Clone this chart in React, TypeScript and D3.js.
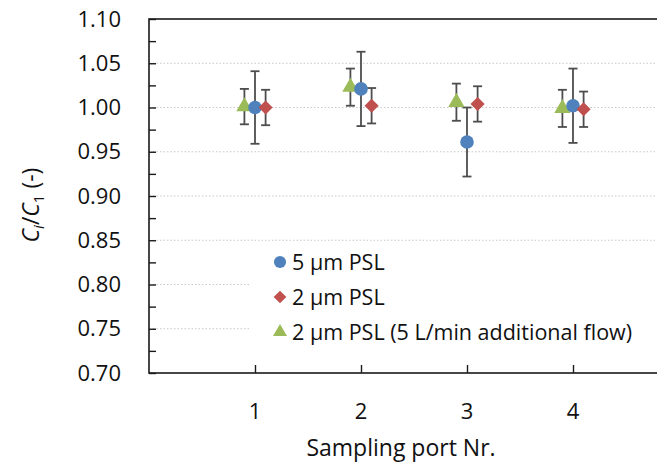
import React, { useEffect, useRef } from 'react';
import * as d3 from 'd3';

const ports = [1, 2, 3, 4];

// mean values and error (±) per port
const psl5 = [1.0, 1.021, 0.961, 1.002];
const psl5Err = [0.041, 0.042, 0.039, 0.042];
const psl2 = [1.0, 1.002, 1.004, 0.998];
const psl2Err = [0.02, 0.02, 0.02, 0.02];
const psl2Flow = [1.001, 1.023, 1.006, 0.999];
const psl2FlowErr = [0.02, 0.021, 0.021, 0.021];

const yTicks = [0.7, 0.75, 0.8, 0.85, 0.9, 0.95, 1.0, 1.05, 1.1];

const App = () => {
  const svgRef = useRef(null);

  useEffect(() => {
    const svg = d3.select(svgRef.current);
    svg.selectAll('*').remove();

    const font = "'Open Sans', sans-serif";
    const left = 149, top = 19, bottom = 373;
    const x = d3.scaleLinear().domain([0, 5]).range([left, left + 530]);
    const y = d3.scaleLinear().domain([0.7, 1.1]).range([bottom, top]);

    // grid (dotted)
    svg.append('g')
      .selectAll('line')
      .data(yTicks.filter(d => d > 0.71 && d < 1.09))
      .enter()
      .append('line')
      .attr('x1', left + 4)
      .attr('x2', 657)
      .attr('y1', d => y(d))
      .attr('y2', d => y(d))
      .attr('stroke', '#c8c8c8')
      .attr('stroke-width', 1.2)
      .attr('stroke-dasharray', '1.5,2');

    // frame
    svg.append('rect')
      .attr('x', left)
      .attr('y', top)
      .attr('width', 600)
      .attr('height', bottom - top)
      .attr('fill', 'none')
      .attr('stroke', '#1a1a1a')
      .attr('stroke-width', 1.6);

    // y axis, ticks inward every 0.025
    const yAxis = svg.append('g')
      .attr('transform', `translate(${left},0)`)
      .call(d3.axisRight(y).tickValues(d3.range(0.7, 1.1001, 0.025)).tickSize(7).tickFormat(() => ''));
    yAxis.select('.domain').remove();
    yAxis.selectAll('line').attr('stroke', '#1a1a1a').attr('stroke-width', 1.4);

    svg.append('g')
      .selectAll('text')
      .data(yTicks)
      .enter()
      .append('text')
      .attr('x', 121)
      .attr('y', d => y(d))
      .attr('dy', '0.35em')
      .attr('text-anchor', 'end')
      .style('font-family', font)
      .style('font-size', '22px')
      .attr('fill', '#111')
      .text(d => d3.format('.2f')(d));

    // x axis ticks inward
    const xAxis = svg.append('g')
      .attr('transform', `translate(0,${bottom})`)
      .call(d3.axisTop(x).tickValues(ports).tickSize(8).tickFormat(() => ''));
    xAxis.select('.domain').remove();
    xAxis.selectAll('line').attr('stroke', '#1a1a1a').attr('stroke-width', 1.4);

    svg.append('g')
      .selectAll('text')
      .data(ports)
      .enter()
      .append('text')
      .attr('x', d => x(d))
      .attr('y', 411)
      .attr('dy', '0.35em')
      .attr('text-anchor', 'middle')
      .style('font-family', font)
      .style('font-size', '22px')
      .attr('fill', '#111')
      .text(d => d);

    // axis titles
    svg.append('text')
      .attr('x', 401)
      .attr('y', 456)
      .attr('text-anchor', 'middle')
      .style('font-family', font)
      .style('font-size', '23px')
      .attr('fill', '#111')
      .text('Sampling port Nr.');

    const yt = svg.append('text')
      .attr('transform', 'translate(39,205) rotate(-90)')
      .attr('text-anchor', 'middle')
      .style('font-family', font)
      .style('font-size', '23px')
      .attr('fill', '#111');
    yt.append('tspan').style('font-style', 'italic').text('C');
    yt.append('tspan').attr('dy', 5).style('font-size', '15px').style('font-style', 'italic').text('i');
    yt.append('tspan').attr('dy', -5).text('/');
    yt.append('tspan').style('font-style', 'italic').text('C');
    yt.append('tspan').attr('dy', 5).style('font-size', '15px').text('1');
    yt.append('tspan').attr('dy', -5).text(' (-)');

    const series = [
      { vals: psl2Flow, err: psl2FlowErr, off: -0.1, color: '#9BBB59', shape: d3.symbolTriangle, size: 115, rot: 0 },
      { vals: psl5, err: psl5Err, off: 0, color: '#4F81BD', shape: d3.symbolCircle, size: 145, rot: 0 },
      { vals: psl2, err: psl2Err, off: 0.1, color: '#C0504D', shape: d3.symbolSquare, size: 100, rot: 45 },
    ];

    series.forEach(s => {
      const g = svg.append('g');
      ports.forEach((p, i) => {
        const cx = x(p + s.off);
        const hi = y(s.vals[i] + s.err[i]);
        const lo = y(s.vals[i] - s.err[i]);
        g.append('line').attr('x1', cx).attr('x2', cx).attr('y1', hi).attr('y2', lo)
          .attr('stroke', '#4d4d4d').attr('stroke-width', 1.8);
        [hi, lo].forEach(yy => {
          g.append('line').attr('x1', cx - 4.5).attr('x2', cx + 4.5).attr('y1', yy).attr('y2', yy)
            .attr('stroke', '#4d4d4d').attr('stroke-width', 1.8);
        });
      });
    });

    series.forEach(s => {
      svg.append('g')
        .selectAll('path')
        .data(ports)
        .enter()
        .append('path')
        .attr('transform', (d, i) => `translate(${x(d + s.off)},${y(s.vals[i])}) rotate(${s.rot})`)
        .attr('d', d3.symbol().type(s.shape).size(s.size)())
        .attr('fill', s.color);
    });

    // legend
    svg.append('rect')
      .attr('x', 249).attr('y', 248).attr('width', 406).attr('height', 102)
      .attr('fill', 'white');
    const legend = [
      { label: '5 µm PSL', color: '#4F81BD', shape: d3.symbolCircle, size: 115, rot: 0 },
      { label: '2 µm PSL', color: '#C0504D', shape: d3.symbolSquare, size: 80, rot: 45 },
      { label: '2 µm PSL (5 L/min additional flow)', color: '#9BBB59', shape: d3.symbolTriangle, size: 85, rot: 0 },
    ];
    legend.forEach((l, i) => {
      const ly = 262 + i * 35;
      svg.append('path')
        .attr('transform', `translate(280,${ly}) rotate(${l.rot})`)
        .attr('d', d3.symbol().type(l.shape).size(l.size)())
        .attr('fill', l.color);
      svg.append('text')
        .attr('x', 292)
        .attr('y', ly)
        .attr('dy', '0.35em')
        .style('font-family', font)
        .style('font-size', '21.5px')
        .attr('fill', '#111')
        .text(l.label);
    });
  }, []);

  return (
    <svg ref={svgRef} width={657} height={468}
      style={{ position: 'absolute', left: 0, top: 0, background: 'white' }} />
  );
};

export default App;
